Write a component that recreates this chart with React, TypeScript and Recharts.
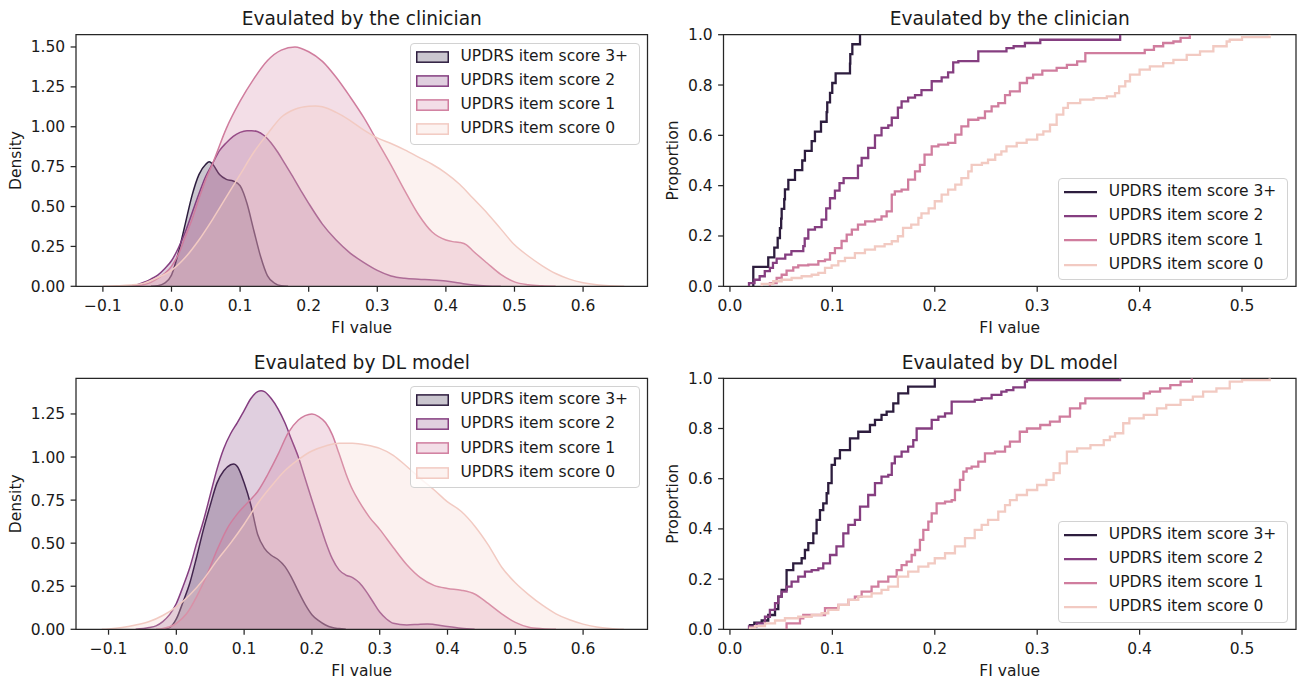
import React from 'react';
import { ComposedChart, Area, Line, XAxis, YAxis, Legend, ReferenceArea } from 'recharts';

// ---------- labels / categories ----------
const seriesKeys = ['s3', 's2', 's1', 's0'];
const seriesLabels = ['UPDRS item score 3+', 'UPDRS item score 2', 'UPDRS item score 1', 'UPDRS item score 0'];
const seriesColors = ['#2d1d3e', '#853e80', '#d07d9e', '#f2cac2'];
const titleClinician = 'Evaulated by the clinician';
const titleModel = 'Evaulated by DL model';
const xLabel = 'FI value';

// ---------- tick values ----------
const kdeXTicks = [-0.1, 0, 0.1, 0.2, 0.3, 0.4, 0.5, 0.6];
const ecdfXTicks = [0, 0.1, 0.2, 0.3, 0.4, 0.5];
const kdeYTicksClin = [0, 0.25, 0.5, 0.75, 1, 1.25, 1.5];
const kdeYTicksModel = [0, 0.25, 0.5, 0.75, 1, 1.25];
const ecdfYTicks = [0, 0.2, 0.4, 0.6, 0.8, 1];

// ---------- KDE, clinician ----------
const clinKdeX3 = [-0.03, -0.02, -0.01, 0.0, 0.01, 0.02, 0.03, 0.04, 0.05, 0.055, 0.06, 0.07, 0.08, 0.09, 0.10, 0.105, 0.11, 0.12, 0.13, 0.14, 0.15, 0.16, 0.17];
const clinKdeY3 = [0, 0.004, 0.02, 0.07, 0.21, 0.39, 0.57, 0.70, 0.765, 0.78, 0.765, 0.70, 0.67, 0.66, 0.63, 0.585, 0.52, 0.35, 0.185, 0.065, 0.02, 0.003, 0];
const clinKdeX2 = [-0.07, -0.05, -0.04, -0.03, -0.02, -0.01, 0.0, 0.01, 0.02, 0.03, 0.04, 0.05, 0.06, 0.07, 0.08, 0.09, 0.10, 0.11, 0.117, 0.125, 0.135, 0.145, 0.155, 0.165, 0.175, 0.19, 0.20, 0.22, 0.24, 0.26, 0.28, 0.30, 0.32, 0.34, 0.36, 0.38, 0.40, 0.42, 0.44, 0.46, 0.48];
const clinKdeY2 = [0, 0.01, 0.025, 0.045, 0.07, 0.11, 0.16, 0.24, 0.34, 0.46, 0.58, 0.69, 0.77, 0.85, 0.9, 0.94, 0.965, 0.975, 0.975, 0.97, 0.945, 0.90, 0.84, 0.77, 0.70, 0.59, 0.52, 0.39, 0.29, 0.21, 0.15, 0.10, 0.065, 0.05, 0.044, 0.04, 0.033, 0.02, 0.008, 0.002, 0];
const clinKdeX1 = [-0.07, -0.05, -0.03, -0.02, -0.01, 0.0, 0.01, 0.02, 0.03, 0.04, 0.05, 0.06, 0.08, 0.10, 0.12, 0.14, 0.16, 0.18, 0.20, 0.22, 0.24, 0.26, 0.28, 0.30, 0.32, 0.34, 0.36, 0.38, 0.40, 0.41, 0.42, 0.43, 0.44, 0.46, 0.48, 0.50, 0.52, 0.54, 0.56];
const clinKdeY1 = [0, 0.005, 0.025, 0.05, 0.08, 0.125, 0.2, 0.31, 0.42, 0.55, 0.67, 0.77, 0.99, 1.16, 1.30, 1.415, 1.48, 1.50, 1.47, 1.41, 1.31, 1.19, 1.06, 0.91, 0.76, 0.60, 0.45, 0.34, 0.29, 0.28, 0.275, 0.26, 0.22, 0.146, 0.075, 0.028, 0.01, 0.003, 0];
const clinKdeX0 = [-0.10, -0.08, -0.06, -0.04, -0.02, 0.0, 0.02, 0.04, 0.06, 0.08, 0.10, 0.12, 0.14, 0.16, 0.18, 0.2, 0.21, 0.22, 0.24, 0.26, 0.28, 0.30, 0.32, 0.34, 0.36, 0.38, 0.40, 0.42, 0.44, 0.46, 0.48, 0.50, 0.52, 0.54, 0.56, 0.58, 0.60, 0.62, 0.64, 0.66];
const clinKdeY0 = [0.0, 0.003, 0.008, 0.02, 0.055, 0.10, 0.18, 0.29, 0.42, 0.56, 0.70, 0.84, 0.955, 1.06, 1.11, 1.128, 1.13, 1.125, 1.09, 1.04, 0.98, 0.93, 0.895, 0.855, 0.81, 0.765, 0.71, 0.64, 0.55, 0.46, 0.36, 0.26, 0.19, 0.13, 0.08, 0.045, 0.022, 0.009, 0.003, 0];

// ---------- KDE, DL model ----------
const dlKdeX3 = [-0.02, -0.01, 0.0, 0.01, 0.02, 0.03, 0.04, 0.05, 0.06, 0.07, 0.08, 0.085, 0.09, 0.10, 0.11, 0.12, 0.13, 0.14, 0.15, 0.16, 0.17, 0.18, 0.19, 0.20, 0.21, 0.22, 0.23, 0.24, 0.25];
const dlKdeY3 = [0, 0.01, 0.06, 0.16, 0.27, 0.42, 0.58, 0.72, 0.85, 0.92, 0.955, 0.96, 0.945, 0.85, 0.72, 0.55, 0.47, 0.43, 0.405, 0.365, 0.30, 0.22, 0.145, 0.085, 0.05, 0.025, 0.01, 0.004, 0];
const dlKdeX2 = [-0.06, -0.04, -0.03, -0.02, -0.01, 0.0, 0.01, 0.02, 0.03, 0.04, 0.05, 0.06, 0.07, 0.08, 0.09, 0.10, 0.11, 0.12, 0.125, 0.13, 0.14, 0.15, 0.16, 0.17, 0.18, 0.19, 0.20, 0.21, 0.22, 0.23, 0.24, 0.25, 0.26, 0.27, 0.28, 0.29, 0.30, 0.31, 0.32, 0.34, 0.36, 0.37, 0.38, 0.40, 0.42, 0.44];
const dlKdeY2 = [0, 0.01, 0.02, 0.045, 0.085, 0.15, 0.25, 0.36, 0.50, 0.63, 0.78, 0.93, 1.05, 1.135, 1.20, 1.27, 1.34, 1.38, 1.385, 1.38, 1.34, 1.28, 1.20, 1.10, 1.00, 0.875, 0.75, 0.63, 0.51, 0.41, 0.345, 0.315, 0.30, 0.27, 0.22, 0.16, 0.10, 0.06, 0.035, 0.025, 0.03, 0.031, 0.028, 0.016, 0.006, 0];
const dlKdeX1 = [-0.03, -0.02, -0.01, 0.0, 0.015, 0.03, 0.045, 0.06, 0.075, 0.09, 0.105, 0.12, 0.135, 0.15, 0.165, 0.18, 0.19, 0.2, 0.21, 0.22, 0.23, 0.24, 0.25, 0.26, 0.27, 0.285, 0.3, 0.32, 0.34, 0.36, 0.38, 0.40, 0.42, 0.44, 0.46, 0.48, 0.50, 0.52, 0.54, 0.56];
const dlKdeY1 = [0, 0.005, 0.015, 0.035, 0.09, 0.19, 0.315, 0.46, 0.585, 0.67, 0.735, 0.80, 0.90, 1.015, 1.14, 1.215, 1.24, 1.25, 1.235, 1.2, 1.13, 1.02, 0.905, 0.81, 0.74, 0.65, 0.58, 0.475, 0.375, 0.30, 0.255, 0.237, 0.227, 0.205, 0.15, 0.09, 0.04, 0.012, 0.003, 0];
const dlKdeX0 = [-0.11, -0.10, -0.08, -0.06, -0.04, -0.02, 0.0, 0.02, 0.04, 0.06, 0.08, 0.10, 0.12, 0.14, 0.16, 0.18, 0.20, 0.22, 0.24, 0.26, 0.28, 0.30, 0.32, 0.34, 0.36, 0.38, 0.40, 0.42, 0.44, 0.46, 0.48, 0.50, 0.52, 0.54, 0.56, 0.58, 0.60, 0.62, 0.64, 0.66];
const dlKdeY0 = [0, 0.002, 0.01, 0.025, 0.045, 0.08, 0.13, 0.2, 0.29, 0.4, 0.5, 0.61, 0.73, 0.83, 0.92, 0.985, 1.035, 1.064, 1.08, 1.08, 1.07, 1.05, 1.01, 0.945, 0.875, 0.81, 0.74, 0.685, 0.6, 0.49, 0.36, 0.27, 0.2, 0.14, 0.09, 0.055, 0.03, 0.014, 0.005, 0];

// ---------- ECDF, clinician ----------
const clinEcdfX3 = [0.0225, 0.0228, 0.0374, 0.0433, 0.0466, 0.0488, 0.050, 0.0505, 0.053, 0.0537, 0.057, 0.0635, 0.0706, 0.0732, 0.0798, 0.083, 0.0889, 0.0944, 0.095, 0.0977, 0.0999, 0.1032, 0.1172, 0.1175, 0.1195, 0.127];
const clinEcdfP3 = [0, 0.077, 0.115, 0.154, 0.192, 0.231, 0.269, 0.308, 0.346, 0.385, 0.423, 0.462, 0.5, 0.538, 0.577, 0.615, 0.654, 0.692, 0.731, 0.769, 0.808, 0.846, 0.885, 0.923, 0.962, 1.0];
const clinEcdfX2 = [0.0186, 0.0186, 0.024, 0.029, 0.034, 0.039, 0.042, 0.0456, 0.054, 0.06, 0.0716, 0.073, 0.0765, 0.083, 0.0895, 0.094, 0.0977, 0.1025, 0.107, 0.111, 0.125, 0.1286, 0.135, 0.1416, 0.148, 0.1546, 0.158, 0.164, 0.1676, 0.174, 0.1807, 0.187, 0.197, 0.2067, 0.213, 0.218, 0.223, 0.2425, 0.27, 0.277, 0.288, 0.303, 0.381];
const clinEcdfP2 = [0, 0.013, 0.026, 0.04, 0.06, 0.073, 0.093, 0.11, 0.126, 0.14, 0.16, 0.19, 0.225, 0.235, 0.265, 0.31, 0.35, 0.38, 0.41, 0.43, 0.48, 0.51, 0.55, 0.60, 0.63, 0.64, 0.67, 0.71, 0.735, 0.75, 0.76, 0.78, 0.815, 0.83, 0.85, 0.89, 0.895, 0.934, 0.947, 0.954, 0.967, 0.98, 1.0];
const clinEcdfX1 = [0.039, 0.039, 0.0456, 0.0505, 0.0553, 0.0618, 0.0667, 0.0765, 0.0863, 0.0928, 0.0977, 0.1025, 0.109, 0.114, 0.119, 0.125, 0.132, 0.1416, 0.148, 0.153, 0.158, 0.161, 0.1676, 0.174, 0.1807, 0.1855, 0.19, 0.197, 0.2035, 0.213, 0.22, 0.226, 0.2327, 0.2425, 0.249, 0.2555, 0.262, 0.2686, 0.2734, 0.283, 0.29, 0.296, 0.305, 0.319, 0.329, 0.339, 0.347, 0.405, 0.414, 0.423, 0.433, 0.44, 0.449];
const clinEcdfP1 = [0, 0.013, 0.033, 0.046, 0.062, 0.075, 0.083, 0.086, 0.1, 0.106, 0.132, 0.152, 0.18, 0.205, 0.225, 0.245, 0.258, 0.265, 0.278, 0.298, 0.364, 0.377, 0.384, 0.424, 0.457, 0.483, 0.523, 0.556, 0.563, 0.57, 0.603, 0.636, 0.662, 0.669, 0.695, 0.715, 0.728, 0.76, 0.775, 0.808, 0.828, 0.841, 0.857, 0.868, 0.88, 0.894, 0.927, 0.94, 0.954, 0.967, 0.973, 0.987, 1.0];
const clinEcdfX0 = [0.031, 0.031, 0.0423, 0.0505, 0.0602, 0.07, 0.0798, 0.0863, 0.0928, 0.0993, 0.1058, 0.1123, 0.122, 0.1318, 0.1416, 0.151, 0.158, 0.164, 0.169, 0.177, 0.184, 0.187, 0.194, 0.2, 0.2067, 0.213, 0.22, 0.226, 0.2327, 0.236, 0.246, 0.252, 0.259, 0.265, 0.27, 0.28, 0.2897, 0.3, 0.306, 0.3125, 0.319, 0.3255, 0.33, 0.342, 0.355, 0.368, 0.376, 0.38, 0.386, 0.3906, 0.4, 0.41, 0.423, 0.433, 0.446, 0.459, 0.472, 0.485, 0.488, 0.5, 0.527];
const clinEcdfP0 = [0, 0.01, 0.02, 0.026, 0.033, 0.04, 0.046, 0.053, 0.073, 0.083, 0.1, 0.113, 0.132, 0.146, 0.159, 0.168, 0.179, 0.199, 0.232, 0.245, 0.272, 0.29, 0.31, 0.338, 0.364, 0.384, 0.404, 0.43, 0.457, 0.483, 0.49, 0.503, 0.523, 0.536, 0.556, 0.57, 0.583, 0.603, 0.616, 0.642, 0.682, 0.709, 0.728, 0.742, 0.748, 0.755, 0.768, 0.795, 0.815, 0.841, 0.861, 0.874, 0.887, 0.9, 0.92, 0.934, 0.954, 0.973, 0.98, 0.99, 1.0];

// ---------- ECDF, DL model ----------
const dlEcdfX3 = [0.0195, 0.0195, 0.0238, 0.031, 0.0374, 0.044, 0.0472, 0.0505, 0.0553, 0.0618, 0.07, 0.0732, 0.0765, 0.0814, 0.0846, 0.0879, 0.0911, 0.0944, 0.096, 0.0993, 0.1025, 0.1074, 0.1172, 0.1253, 0.1367, 0.1416, 0.148, 0.153, 0.1595, 0.1644, 0.174, 0.2];
const dlEcdfP3 = [0, 0.017, 0.026, 0.035, 0.057, 0.08, 0.13, 0.157, 0.236, 0.263, 0.283, 0.316, 0.343, 0.382, 0.436, 0.475, 0.502, 0.542, 0.582, 0.655, 0.681, 0.714, 0.761, 0.787, 0.814, 0.834, 0.854, 0.867, 0.9, 0.94, 0.967, 1.0];
const dlEcdfX2 = [0.0186, 0.0186, 0.026, 0.0342, 0.039, 0.044, 0.0472, 0.0505, 0.0553, 0.0602, 0.0667, 0.0732, 0.0798, 0.0863, 0.0911, 0.0977, 0.104, 0.1107, 0.1156, 0.122, 0.127, 0.135, 0.1416, 0.148, 0.1546, 0.158, 0.161, 0.1676, 0.174, 0.179, 0.1823, 0.197, 0.2035, 0.21, 0.2165, 0.239, 0.2458, 0.2555, 0.265, 0.27, 0.2767, 0.288, 0.29, 0.381];
const dlEcdfP2 = [0, 0.012, 0.024, 0.05, 0.077, 0.104, 0.13, 0.15, 0.17, 0.19, 0.21, 0.23, 0.236, 0.243, 0.263, 0.296, 0.33, 0.382, 0.416, 0.436, 0.489, 0.535, 0.582, 0.608, 0.615, 0.661, 0.688, 0.708, 0.728, 0.754, 0.8, 0.834, 0.847, 0.86, 0.907, 0.914, 0.92, 0.934, 0.947, 0.953, 0.964, 0.987, 0.993, 1.0];
const dlEcdfX1 = [0.0553, 0.0553, 0.0684, 0.0716, 0.0928, 0.1058, 0.1156, 0.122, 0.1286, 0.1383, 0.1449, 0.1546, 0.1628, 0.1676, 0.1725, 0.1774, 0.1807, 0.1855, 0.1888, 0.1937, 0.197, 0.2018, 0.21, 0.2165, 0.2197, 0.2246, 0.2279, 0.2311, 0.236, 0.2425, 0.249, 0.2588, 0.2686, 0.2734, 0.283, 0.29, 0.303, 0.3125, 0.322, 0.332, 0.342, 0.347, 0.404, 0.41, 0.42, 0.43, 0.44, 0.451];
const dlEcdfP1 = [0, 0.024, 0.044, 0.057, 0.084, 0.097, 0.117, 0.13, 0.15, 0.17, 0.19, 0.21, 0.236, 0.256, 0.27, 0.296, 0.316, 0.356, 0.396, 0.429, 0.462, 0.502, 0.509, 0.515, 0.555, 0.595, 0.628, 0.641, 0.648, 0.668, 0.701, 0.708, 0.728, 0.748, 0.787, 0.8, 0.814, 0.827, 0.847, 0.88, 0.9, 0.92, 0.94, 0.947, 0.96, 0.973, 0.987, 1.0];
const dlEcdfX0 = [0.0195, 0.0195, 0.0244, 0.0342, 0.044, 0.0537, 0.0667, 0.0798, 0.0895, 0.096, 0.1058, 0.1156, 0.1253, 0.1383, 0.148, 0.1546, 0.164, 0.174, 0.184, 0.1937, 0.2, 0.21, 0.2197, 0.2295, 0.239, 0.2458, 0.252, 0.262, 0.2686, 0.2734, 0.28, 0.29, 0.3, 0.309, 0.316, 0.322, 0.329, 0.339, 0.352, 0.365, 0.371, 0.376, 0.384, 0.39, 0.404, 0.417, 0.426, 0.44, 0.452, 0.462, 0.475, 0.488, 0.5, 0.527];
const dlEcdfP0 = [0, 0.007, 0.013, 0.024, 0.035, 0.044, 0.05, 0.057, 0.064, 0.077, 0.097, 0.117, 0.13, 0.143, 0.157, 0.17, 0.21, 0.23, 0.25, 0.263, 0.283, 0.303, 0.33, 0.363, 0.396, 0.416, 0.436, 0.469, 0.495, 0.515, 0.535, 0.555, 0.575, 0.595, 0.622, 0.661, 0.708, 0.721, 0.734, 0.754, 0.768, 0.781, 0.821, 0.84, 0.854, 0.88, 0.894, 0.914, 0.927, 0.947, 0.96, 0.987, 0.993, 1.0];

// ---------- styling ----------
const FONT = '"DejaVu Sans", "Liberation Sans", sans-serif';
const TEXT = '#1a1a1a';
const FRAME = '#262626';
const FS = 15.5;
const TITLE_FS = 18.6;
const X_AXIS_H = 50;
const ROW = 24.2;

type Margin = { top: number; right: number; bottom: number; left: number };

function mergeSeries(xsList: number[][], ysList: number[][]) {
  const rows: Record<string, number>[] = [];
  seriesKeys.forEach((key, k) => {
    xsList[k].forEach((x, i) => rows.push({ x, [key]: ysList[k][i] }));
  });
  return rows.sort((a, b) => a.x - b.x);
}

function LegendBox({ kind }: { kind: 'kde' | 'ecdf' }) {
  return (
    <div
      style={{
        position: 'relative',
        width: 229.5,
        height: 102,
        boxSizing: 'border-box',
        border: '1.2px solid #d2d2d2',
        borderRadius: 4,
        background: 'rgba(255,255,255,0.8)',
        fontFamily: FONT,
        fontSize: FS,
        color: TEXT,
      }}
    >
      {seriesLabels.map((label, i) => (
        <React.Fragment key={label}>
          <svg
            width={34}
            height={ROW}
            style={{ position: 'absolute', left: 4.8, top: ROW * i, overflow: 'visible' }}
          >
            {kind === 'kde' ? (
              <rect
                x={0.75}
                y={7.9}
                width={31.5}
                height={10.3}
                fill={seriesColors[i]}
                fillOpacity={0.25}
                stroke={seriesColors[i]}
                strokeWidth={1.5}
              />
            ) : (
              <line x1={0} x2={33} y1={13.1} y2={13.1} stroke={seriesColors[i]} strokeWidth={2.3} />
            )}
          </svg>
          <div
            style={{
              position: 'absolute',
              left: 49.5,
              top: 5.1 + ROW * i,
              lineHeight: `${FS}px`,
              whiteSpace: 'nowrap',
            }}
          >
            {label}
          </div>
        </React.Fragment>
      ))}
    </div>
  );
}

type PanelProps = {
  kind: 'kde' | 'ecdf';
  left: number;
  top: number;
  width: number;
  height: number;
  margin: Margin;
  yAxisWidth: number;
  xDomain: [number, number];
  yDomain: [number, number];
  xTicks: number[];
  yTicks: number[];
  yDigits: number;
  title: string;
  yLabel: string;
  yLabelX: number;
  legendLeft: number;
  legendTop: number;
  xs: number[][];
  ys: number[][];
};

function Panel(p: PanelProps) {
  const data = mergeSeries(p.xs, p.ys);
  const plotLeft = p.margin.left + p.yAxisWidth;
  const plotRight = p.width - p.margin.right;
  const plotTop = p.margin.top;
  const plotBottom = p.height - p.margin.bottom - X_AXIS_H;
  const cx = (plotLeft + plotRight) / 2;
  const cy = (plotTop + plotBottom) / 2;
  const fmtX = (v: number) => (v < -1e-9 ? '\u2212' : '') + Math.abs(v).toFixed(1);
  const fmtY = (v: number) => Number(v).toFixed(p.yDigits);
  const tickStyle = { fontSize: FS, fontFamily: FONT, fill: TEXT };
  const tickLine = { stroke: FRAME, strokeWidth: 1.25 };

  const xLabelEl = () => (
    <text x={cx} y={plotBottom + 46.7} textAnchor="middle" fontSize={FS} fontFamily={FONT} fill={TEXT}>
      {xLabel}
    </text>
  );
  const yLabelEl = () => (
    <g>
      <text x={cx} y={plotTop - 9.3} textAnchor="middle" fontSize={TITLE_FS} fontFamily={FONT} fill={TEXT}>
        {p.title}
      </text>
      <text
        x={p.yLabelX}
        y={cy}
        transform={`rotate(-90 ${p.yLabelX} ${cy})`}
        textAnchor="middle"
        fontSize={FS}
        fontFamily={FONT}
        fill={TEXT}
      >
        {p.yLabel}
      </text>
    </g>
  );

  return (
    <div style={{ position: 'absolute', left: p.left, top: p.top, width: p.width, height: p.height }}>
      <ComposedChart width={p.width} height={p.height} data={data} margin={p.margin}>
        <XAxis
          dataKey="x"
          type="number"
          domain={p.xDomain}
          ticks={p.xTicks}
          allowDataOverflow
          interval={0}
          height={X_AXIS_H}
          axisLine={false}
          tickLine={tickLine}
          tickSize={5.4}
          tickMargin={7.8}
          tick={tickStyle}
          tickFormatter={fmtX}
          label={xLabelEl}
        />
        <YAxis
          type="number"
          domain={p.yDomain}
          ticks={p.yTicks}
          allowDataOverflow
          interval={0}
          width={p.yAxisWidth}
          axisLine={false}
          tickLine={tickLine}
          tickSize={5.4}
          tickMargin={5.4}
          tick={tickStyle}
          tickFormatter={fmtY}
          label={yLabelEl}
        />
        {seriesKeys.map((key, i) =>
          p.kind === 'kde' ? (
            <Area
              key={key}
              dataKey={key}
              type="monotone"
              stroke={seriesColors[i]}
              strokeWidth={1.5}
              fill={seriesColors[i]}
              fillOpacity={0.25}
              connectNulls
              dot={false}
              activeDot={false}
              isAnimationActive={false}
            />
          ) : (
            <Line
              key={key}
              dataKey={key}
              type="stepAfter"
              stroke={seriesColors[i]}
              strokeWidth={2.3}
              connectNulls
              dot={false}
              activeDot={false}
              isAnimationActive={false}
            />
          )
        )}
        <ReferenceArea
          x1={p.xDomain[0]}
          x2={p.xDomain[1]}
          y1={p.yDomain[0]}
          y2={p.yDomain[1]}
          fill="none"
          fillOpacity={0}
          stroke={FRAME}
          strokeWidth={1.25}
          ifOverflow="visible"
        />
        <Legend
          layout="horizontal"
          verticalAlign="middle"
          align="center"
          wrapperStyle={{ left: p.legendLeft, top: p.legendTop, width: 229.5, height: 102 }}
          content={() => <LegendBox kind={p.kind} />}
        />
      </ComposedChart>
    </div>
  );
}

export default function App() {
  const topMargin = { top: 34.7, bottom: 8.7, left: 0 };
  const botMargin = { top: 33.3, bottom: 3.7, left: 0 };
  return (
    <div
      style={{
        position: 'absolute',
        left: 0,
        top: 0,
        width: 1298,
        height: 683,
        background: '#ffffff',
        overflow: 'hidden',
      }}
    >
      <Panel
        kind="kde"
        left={0}
        top={0}
        width={660}
        height={345}
        margin={{ ...topMargin, right: 12.5 }}
        yAxisWidth={76}
        xDomain={[-0.1392, 0.6939]}
        yDomain={[0, 1.577]}
        xTicks={kdeXTicks}
        yTicks={kdeYTicksClin}
        yDigits={2}
        title={titleClinician}
        yLabel="Density"
        yLabelX={20.7}
        legendLeft={410}
        legendTop={42.7}
        xs={[clinKdeX3, clinKdeX2, clinKdeX1, clinKdeX0]}
        ys={[clinKdeY3, clinKdeY2, clinKdeY1, clinKdeY0]}
      />
      <Panel
        kind="ecdf"
        left={660}
        top={0}
        width={638}
        height={345}
        margin={{ ...topMargin, right: 2 }}
        yAxisWidth={63.5}
        xDomain={[-0.0063, 0.5527]}
        yDomain={[0, 1]}
        xTicks={ecdfXTicks}
        yTicks={ecdfYTicks}
        yDigits={1}
        title={titleClinician}
        yLabel="Proportion"
        yLabelX={18.1}
        legendLeft={398.3}
        legendTop={178}
        xs={[clinEcdfX3, clinEcdfX2, clinEcdfX1, clinEcdfX0]}
        ys={[clinEcdfP3, clinEcdfP2, clinEcdfP1, clinEcdfP0]}
      />
      <Panel
        kind="kde"
        left={0}
        top={345}
        width={660}
        height={338}
        margin={{ ...botMargin, right: 12.5 }}
        yAxisWidth={76}
        xDomain={[-0.148, 0.695]}
        yDomain={[0, 1.457]}
        xTicks={kdeXTicks}
        yTicks={kdeYTicksModel}
        yDigits={2}
        title={titleModel}
        yLabel="Density"
        yLabelX={20.7}
        legendLeft={410}
        legendTop={41}
        xs={[dlKdeX3, dlKdeX2, dlKdeX1, dlKdeX0]}
        ys={[dlKdeY3, dlKdeY2, dlKdeY1, dlKdeY0]}
      />
      <Panel
        kind="ecdf"
        left={660}
        top={345}
        width={638}
        height={338}
        margin={{ ...botMargin, right: 2 }}
        yAxisWidth={63.5}
        xDomain={[-0.0063, 0.5527]}
        yDomain={[0, 1]}
        xTicks={ecdfXTicks}
        yTicks={ecdfYTicks}
        yDigits={1}
        title={titleModel}
        yLabel="Proportion"
        yLabelX={18.1}
        legendLeft={398.3}
        legendTop={175.7}
        xs={[dlEcdfX3, dlEcdfX2, dlEcdfX1, dlEcdfX0]}
        ys={[dlEcdfP3, dlEcdfP2, dlEcdfP1, dlEcdfP0]}
      />
    </div>
  );
}
